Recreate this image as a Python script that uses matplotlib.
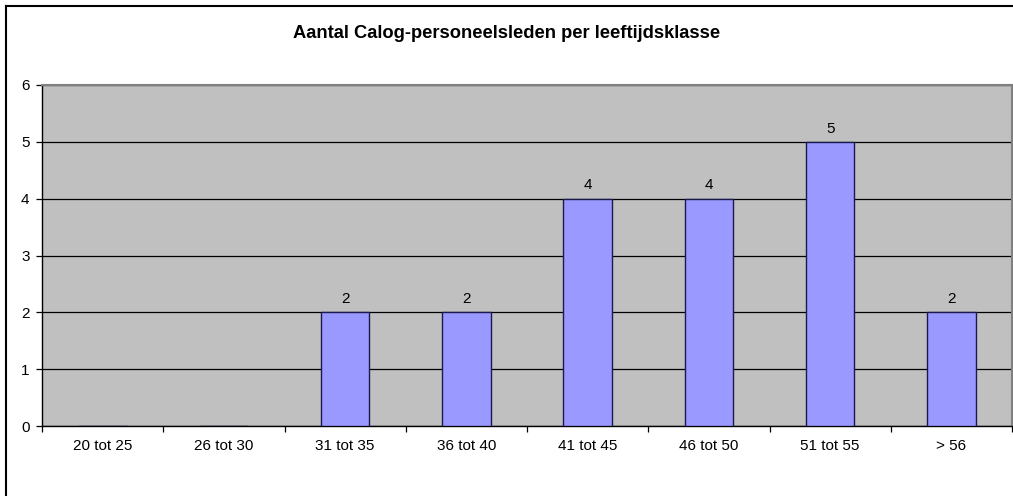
import matplotlib.pyplot as plt
from matplotlib.lines import Line2D

categories = ['20 tot 25', '26 tot 30', '31 tot 35', '36 tot 40', '41 tot 45', '46 tot 50', '51 tot 55', '> 56']
counts = [0, 0, 2, 2, 4, 4, 5, 2]

plt.rcParams['font.family'] = ['Liberation Sans', 'DejaVu Sans']

W, H = 1013, 496
fig = plt.figure(figsize=(W / 100, H / 100), dpi=100)
fig.patch.set_facecolor('white')

# outer chart border: only top and left are visible in the crop
fig.add_artist(Line2D([6 / W, 1], [1 - 6 / H, 1 - 6 / H], transform=fig.transFigure,
                      color='black', linewidth=1.5))
fig.add_artist(Line2D([6 / W, 6 / W], [0, 1 - 6 / H], transform=fig.transFigure,
                      color='black', linewidth=1.5))

ax = fig.add_axes([42 / W, 1 - 426 / H, (1012 - 42) / W, (426 - 85) / H])
ax.set_facecolor('#C0C0C0')

x = list(range(len(categories)))
ax.set_axisbelow(True)
ax.yaxis.grid(True, color='black', linewidth=0.9)
ax.bar(x, counts, width=0.4, color='#9999FF', edgecolor='#1a1a50', linewidth=1.0, zorder=3)
for xi, v in zip(x, counts):
    if v > 0:
        ax.text(xi, v + 0.11, str(v), ha='center', va='bottom', fontsize=11)

ax.set_xlim(-0.5, len(categories) - 0.5)
ax.set_ylim(0, 6)
ax.set_yticks(range(7))
ax.tick_params(axis='y', direction='out', length=4, width=0.9, labelsize=11, pad=5)

ax.set_xticks([i - 0.5 for i in range(len(categories) + 1)])
ax.set_xticklabels([])
ax.set_xticks(x, minor=True)
ax.set_xticklabels(categories, minor=True)
ax.tick_params(axis='x', which='major', direction='out', length=4, width=0.9)
ax.tick_params(axis='x', which='minor', length=0, labelsize=11, pad=9)

for side in ['left', 'bottom']:
    ax.spines[side].set_color('black')
    ax.spines[side].set_linewidth(1.0)
for side in ['top', 'right']:
    ax.spines[side].set_color('#808080')
    ax.spines[side].set_linewidth(1.5)

fig.text(0.5, 1 - 33 / H, 'Aantal Calog-personeelsleden per leeftijdsklasse',
         ha='center', va='center', fontsize=13.2, fontweight='bold')

fig.savefig('out.png', dpi=100)
